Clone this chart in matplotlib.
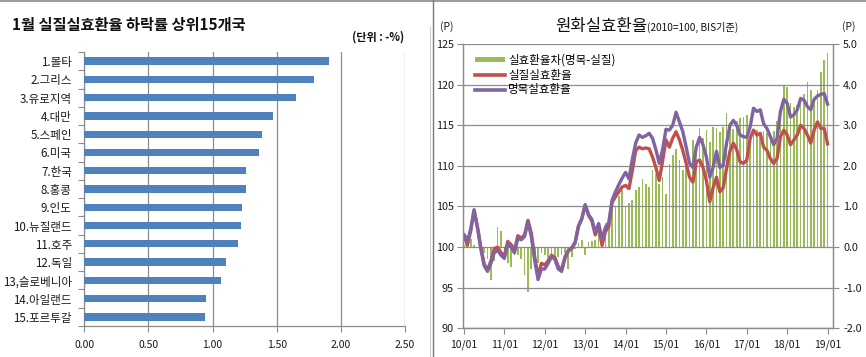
import matplotlib

matplotlib.use("Agg")
import matplotlib.pyplot as plt
from matplotlib.lines import Line2D
from matplotlib.patches import Patch

plt.rcParams["font.family"] = ["Noto Sans CJK KR", "DejaVu Sans"]

W, H = 866, 357

# ---------------------------------------------------------------- data: left panel
countries = ["1.몰타", "2.그리스", "3.유로지역", "4.대만", "5.스페인", "6.미국", "7.한국",
             "8.홍콩", "9.인도", "10.뉴질랜드", "11.호주", "12.독일", "13,슬로베니아",
             "14.아일랜드", "15.포르투갈"]
drop_rate = [1.91, 1.79, 1.65, 1.47, 1.385, 1.36, 1.26, 1.26, 1.23, 1.22, 1.20, 1.105,
             1.065, 0.95, 0.94]
x_ticks_left = [0.0, 0.5, 1.0, 1.5, 2.0, 2.5]

# ---------------------------------------------------------------- data: right panel (monthly 2010/01-2019/01)
real_eer = [101.5, 100.2, 102.0, 104.5, 102.5, 100.0, 97.9, 97.2, 98.3, 99.8,
            100.0, 99.3, 98.9, 100.7, 100.3, 99.6, 101.4, 101.1, 101.5, 103.3,
            101.7, 98.8, 96.4, 98.0, 97.8, 98.3, 99.0, 98.7, 97.6, 97.2,
            98.8, 99.6, 99.9, 100.6, 102.6, 103.5, 105.2, 103.9, 103.2, 101.5,
            102.6, 100.2, 101.9, 102.5, 105.5, 106.2, 106.8, 107.4, 107.6, 107.2,
            109.4, 111.9, 112.3, 112.1, 112.2, 112.1, 111.1, 109.8, 108.2, 110.6,
            113.2, 112.3, 113.4, 114.2, 113.2, 111.9, 110.3, 108.6, 108.0, 110.5,
            110.7, 109.8, 108.2, 105.6, 107.3, 108.6, 106.8, 107.3, 109.7, 111.8,
            112.8, 112.0, 110.5, 110.3, 110.7, 113.4, 114.4, 113.8, 114.0, 112.3,
            111.9, 110.9, 110.3, 110.9, 113.6, 114.4, 113.8, 112.6, 113.2, 113.8,
            115.0, 114.6, 113.8, 112.8, 114.4, 115.4, 114.6, 114.6, 112.7]
nominal_eer = [101.5, 100.6, 102.2, 104.6, 102.4, 99.8, 97.7, 97.0, 98.0, 99.3,
               99.6, 99.0, 98.6, 100.4, 100.0, 99.3, 101.1, 100.9, 101.3, 103.1,
               101.3, 98.4, 96.0, 97.3, 97.3, 98.0, 98.8, 98.5, 97.3, 97.0,
               98.6, 99.5, 99.8, 100.5, 102.5, 103.5, 105.2, 104.0, 103.4, 101.8,
               102.9, 101.0, 102.4, 103.0, 105.8, 106.8, 107.7, 108.5, 109.2, 108.4,
               110.8, 112.8, 113.8, 113.5, 113.7, 114.0, 113.4, 112.0, 110.3, 112.0,
               114.5, 114.4, 115.0, 116.6, 115.4, 114.2, 112.3, 110.3, 109.8, 112.3,
               113.5, 112.6, 111.1, 108.6, 109.8, 111.8, 109.8, 110.1, 112.8, 115.0,
               115.6, 115.0, 113.8, 113.6, 113.5, 114.8, 117.1, 116.7, 116.9, 115.2,
               114.6, 113.6, 112.6, 113.4, 116.7, 118.2, 117.7, 116.0, 116.3, 116.9,
               118.3, 118.1, 117.3, 116.9, 118.2, 118.6, 118.8, 118.9, 117.6]
eer_gap = [0.05, 0.30, 0.20, 0.05, 0.00, -0.05, -0.15, -0.30, -0.80, -0.35,
           0.50, 0.40, -0.25, -0.40, -0.48, -0.20, -0.20, -0.30, -0.68, -1.10,
           -0.55, -0.30, -0.40, -0.15, -0.20, -0.35, -0.20, -0.30, -0.25, -0.20,
           -0.15, -0.55, -0.25, -0.05, 0.10, 0.18, -0.20, 0.12, 0.14, 0.18,
           0.35, 0.38, 0.60, 0.75, 0.88, 1.02, 1.25, 1.40, 0.98, 1.08,
           1.15, 1.40, 1.48, 1.68, 1.56, 1.48, 1.89, 1.80, 1.56, 1.72,
           1.30, 2.05, 2.26, 2.42, 2.14, 1.90, 2.05, 1.77, 2.63, 2.42,
           2.92, 2.68, 2.88, 2.59, 2.96, 2.92, 2.83, 2.96, 3.29, 3.00,
           2.90, 3.10, 3.17, 3.20, 3.25, 2.65, 2.90, 2.88, 2.77, 2.85,
           2.80, 2.72, 2.85, 3.10, 3.37, 3.99, 3.95, 3.54, 3.46, 3.50,
           3.62, 3.78, 4.07, 3.87, 3.66, 3.87, 4.32, 4.60, 4.77]
year_labels = ["10/01", "11/01", "12/01", "13/01", "14/01", "15/01", "16/01", "17/01",
               "18/01", "19/01"]
left_ticks = [90, 95, 100, 105, 110, 115, 120, 125]
right_ticks = [-2, -1, 0, 1, 2, 3, 4, 5]

BLUE = "#4F81BD"
RED = "#C0504D"
PURPLE = "#8064A2"
GREEN = "#9BBB59"
GRID = "#8C8C8C"
TXT = "#1a1a1a"


def px_axes(fig, x0, y0, x1, y1):
    return fig.add_axes([x0 / W, 1 - y1 / H, (x1 - x0) / W, (y1 - y0) / H])


fig = plt.figure(figsize=(W / 100, H / 100), dpi=100)

# panel frame lines
fig.add_artist(Line2D([0, 1], [1 - 0.5 / H, 1 - 0.5 / H], color="#8a8a8a", lw=1.2))
fig.add_artist(Line2D([433 / W, 433 / W], [0, 1], color="#7a7a7a", lw=1.0))
fig.add_artist(Line2D([429.5 / W, 429.5 / W], [0, 1 - 26 / H], color="#d0d0d0", lw=0.8))

# =============================================================== left: bar chart
ax = px_axes(fig, 84.3, 52, 405, 326)
ypos = list(range(len(countries)))
ax.barh(ypos, drop_rate, height=0.4, color=BLUE, zorder=3)
ax.set_ylim(len(countries) - 0.5, -0.5)
ax.set_xlim(0, 2.5)
ax.set_xticks(x_ticks_left)
ax.set_xticklabels([f"{v:.2f}" for v in x_ticks_left], fontsize=7.5, color=TXT)
ax.set_yticks(ypos)
ax.set_yticklabels(countries, fontsize=8.3, color=TXT)
ax.set_yticks([k + 0.5 for k in range(-1, len(countries))], minor=True)
ax.tick_params(axis="y", which="major", length=0, pad=9)
ax.tick_params(axis="y", which="minor", length=4, color=GRID, width=0.8)
ax.tick_params(axis="x", length=4, color=GRID, width=0.8, pad=6)
ax.grid(axis="x", color=GRID, lw=0.9, zorder=0)
for s in ["top", "right"]:
    ax.spines[s].set_visible(False)
for s in ["left", "bottom"]:
    ax.spines[s].set_color(GRID)
    ax.spines[s].set_linewidth(0.9)

fig.text(12 / W, 1 - 25 / H, "1월 실질실효환율 하락률 상위15개국", fontsize=11,
         fontweight="bold", va="center", ha="left", color="#111111")
fig.text(404 / W, 1 - 37.5 / H, "(단위 : -%)", fontsize=8, fontweight="bold",
         va="center", ha="right", color="#111111")

# =============================================================== right: EER lines + gap bars
axl = px_axes(fig, 463.3, 44, 833.3, 328.3)
axr = axl.twinx()
months = list(range(len(real_eer)))

axr.bar(months, eer_gap, width=0.5, color=GREEN, zorder=2)
axr.set_ylim(-2, 5)
axr.set_yticks(right_ticks)
axr.set_yticklabels([f"{v:.1f}" for v in right_ticks], fontsize=7.8, color=TXT)

axl.plot(months, real_eer, color=RED, lw=2.4, solid_joinstyle="round")
axl.plot(months, nominal_eer, color=PURPLE, lw=2.4, solid_joinstyle="round")
axl.set_ylim(90, 125)
axl.set_yticks(left_ticks)
axl.set_yticklabels([str(v) for v in left_ticks], fontsize=7.8, color=TXT)
axl.set_xlim(-0.2, 109.7)
axl.set_xticks([12 * k for k in range(len(year_labels))])
axl.set_xticklabels(year_labels, fontsize=7.5, color=TXT)
axl.grid(axis="y", color=GRID, lw=0.9)
axl.set_zorder(axr.get_zorder() + 1)
axl.patch.set_visible(False)
axr.patch.set_visible(True)
axr.patch.set_facecolor("white")

for a in (axl, axr):
    a.spines["top"].set_visible(False)
    for s in ["left", "right", "bottom"]:
        a.spines[s].set_color(GRID)
        a.spines[s].set_linewidth(0.9)
axl.tick_params(axis="y", length=4, color=GRID, width=0.8, pad=3)
axr.tick_params(axis="y", length=4, color=GRID, width=0.8, pad=3)
axl.tick_params(axis="x", length=4, color=GRID, width=0.8, pad=4)

handles = [Patch(facecolor=GREEN, edgecolor="none"),
           Line2D([], [], color=RED, lw=2.6),
           Line2D([], [], color=PURPLE, lw=2.6)]
labels = ["실효환율차(명목-실질)", "실질실효환율", "명목실효환율"]
axl.legend(handles, labels, loc="upper left", bbox_to_anchor=(0.005, 1.0), frameon=False,
           fontsize=8.3, handlelength=2.6, handleheight=0.35, handletextpad=0.3,
           labelspacing=0.15, borderaxespad=0.45)

fig.text(647 / W, 1 - 31 / H, "원화실효환율", fontsize=12, ha="right", va="baseline",
         color="#111111")
fig.text(647 / W, 1 - 31 / H, "(2010=100, BIS기준)", fontsize=7.3, ha="left",
         va="baseline", color="#111111")
fig.text(447 / W, 1 - 27 / H, "(P)", fontsize=7.5, ha="center", va="center", color=TXT)
fig.text(849 / W, 1 - 27 / H, "(P)", fontsize=7.5, ha="center", va="center", color=TXT)

fig.savefig("out.png", dpi=100)
